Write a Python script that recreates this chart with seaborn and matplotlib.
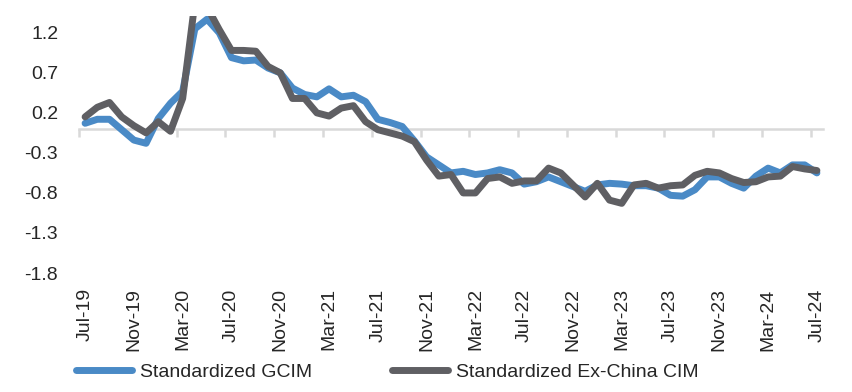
import numpy as np
import pandas as pd
import seaborn as sns
import matplotlib.pyplot as plt

# monthly, Jul-19 .. Jul-24
months = pd.date_range('2019-07-01', periods=61, freq='MS')

gcim = [0.07, 0.12, 0.12, -0.01, -0.14, -0.18, 0.13, 0.32, 0.47, 1.25,
        1.37, 1.20, 0.89, 0.85, 0.86, 0.76, 0.70, 0.51, 0.43, 0.40,
        0.50, 0.40, 0.42, 0.34, 0.12, 0.08, 0.03, -0.15, -0.35, -0.45,
        -0.55, -0.53, -0.57, -0.55, -0.51, -0.55, -0.69, -0.66, -0.60, -0.66,
        -0.72, -0.78, -0.70, -0.68, -0.69, -0.71, -0.71, -0.74, -0.83, -0.84,
        -0.76, -0.60, -0.60, -0.68, -0.74, -0.59, -0.49, -0.55, -0.45, -0.45,
        -0.55]

ex_china = [0.15, 0.27, 0.33, 0.15, 0.04, -0.05, 0.09, -0.03, 0.38, 1.58,
            1.52, 1.24, 0.98, 0.98, 0.97, 0.78, 0.70, 0.38, 0.38, 0.20,
            0.16, 0.26, 0.29, 0.09, -0.01, -0.05, -0.09, -0.16, -0.39, -0.59,
            -0.57, -0.80, -0.80, -0.62, -0.60, -0.68, -0.65, -0.65, -0.49, -0.55,
            -0.70, -0.85, -0.68, -0.89, -0.93, -0.70, -0.68, -0.74, -0.71, -0.70,
            -0.58, -0.53, -0.55, -0.62, -0.67, -0.66, -0.60, -0.59, -0.47, -0.50,
            -0.52]

y_ticks = [1.2, 0.7, 0.2, -0.3, -0.8, -1.3, -1.8]

sns.set_style('white')
plt.rcParams['font.family'] = ['Liberation Sans', 'DejaVu Sans']

df = pd.DataFrame({'idx': np.arange(len(months)),
                   'Standardized GCIM': gcim,
                   'Standardized Ex-China CIM': ex_china})

fig = plt.figure(figsize=(8.52, 3.92), dpi=100)
ax = fig.add_axes([79 / 852, 1 - 273 / 392, 744 / 852, 257 / 392])

sns.lineplot(data=df, x='idx', y='Standardized GCIM', color='#4a8ac6', lw=5,
             solid_capstyle='round', solid_joinstyle='round', ax=ax,
             label='Standardized GCIM')
sns.lineplot(data=df, x='idx', y='Standardized Ex-China CIM', color='#5f5f63', lw=5,
             solid_capstyle='round', solid_joinstyle='round', ax=ax,
             label='Standardized Ex-China CIM')

ax.set_xlim(-0.5, len(months) - 0.5)
ax.set_ylim(-1.8, 1.41)
for s in ax.spines.values():
    s.set_visible(False)

# labels at bottom, one every 4 months
ax.set_xticks(df['idx'][::4])
ax.set_xticklabels(months[::4].strftime('%b-%y'), rotation=90)
ax.set_yticks(y_ticks)
ax.set_yticklabels([f'{v:.1f}' for v in y_ticks])
ax.tick_params(axis='x', length=0, pad=11, labelsize=14)
ax.tick_params(axis='y', length=0, pad=15, labelsize=14)
ax.set_xlabel('')
ax.set_ylabel('')

# category axis line crossing at zero, ticks between categories
sec = ax.secondary_xaxis(0, transform=ax.transData)
sec.spines['bottom'].set_color('#d9d9d9')
sec.spines['bottom'].set_linewidth(1.8)
sec.set_xticks(np.arange(-0.5, len(months) - 0.5, 4))
sec.set_xticklabels([])
sec.tick_params(length=6, width=1.8, color='#d9d9d9')

ax.legend(loc='center left', bbox_to_anchor=(76 / 852, 20 / 392),
          bbox_transform=fig.transFigure, ncol=2, frameon=False,
          handlelength=2.9, handletextpad=0.4, columnspacing=4.1,
          borderpad=0, borderaxespad=0, fontsize=14)

fig.savefig('out.png', dpi=100)
